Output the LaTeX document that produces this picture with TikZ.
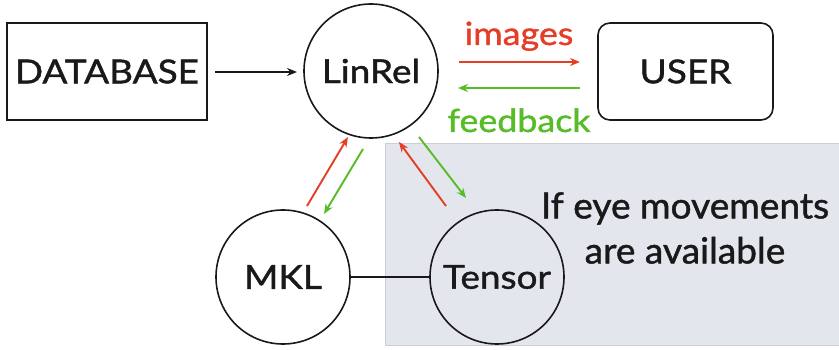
\documentclass[tikz,border=0pt]{standalone}
\usepackage{fontspec}
\setmainfont{Lato}
\usetikzlibrary{arrows.meta}
\definecolor{cred}{RGB}{228,62,38}
\definecolor{cgreen}{RGB}{88,188,40}
\definecolor{panel}{RGB}{227,230,237}
\definecolor{panelborder}{RGB}{205,207,212}
\newcommand{\labfont}[1]{\fontsize{#1}{#1}\selectfont\addfontfeature{FakeStretch=1.12,FakeBold=1.2}}
\tikzset{
  lbl/.style={font=\labfont{33}, text=black!90},
  circ/.style={draw=black!90, line width=1.6pt, circle, minimum size=134pt, inner sep=0pt},
  boxn/.style={draw=black!90, line width=1.6pt, minimum width=200pt, minimum height=97pt, inner sep=0pt},
  arr/.style={line width=1.9pt, -{Stealth[length=10pt,width=8pt]}},
  arrlbl/.style={font=\labfont{32}, anchor=base},
}
\begin{document}
\begin{tikzpicture}[x=1pt,y=-1pt]
\useasboundingbox (0,0) rectangle (839,350);
% panel
\fill[panel, draw=panelborder, line width=0.8pt] (385,143) rectangle (842,345);
% nodes
\node[boxn, lbl] (db) at (107,71.5) {DATABASE};
\node[circ, lbl] (lin) at (371,71) {LinRel};
\node[boxn, lbl, rounded corners=12pt, minimum width=175pt] (user) at (685.5,71.5) {USER};
\node[circ, lbl] (mkl) at (283,277) {MKL};
\node[circ, lbl] (ten) at (497,277) {Tensor};
\node[font=\fontsize{36}{45}\selectfont\addfontfeature{FakeStretch=1.03,FakeBold=1.2}, text=black!90, align=center] (note) at (685,228) {If eye movements\\are available};
\node[arrlbl, text=cred] (imgl) at (519,45) {images};
\node[arrlbl, text=cgreen] (fbl) at (519,132) {feedback};
% connectors
\coordinate (dbo) at (215,72);
\coordinate (lini) at (297,72);
\draw[arr, black!90] (dbo) -- (lini);
\coordinate (ia) at (459,62); \coordinate (ib) at (580,62);
\coordinate (fa) at (580,88); \coordinate (fb) at (458,88);
\draw[arr, cred] (ia) -- (ib);
\draw[arr, cgreen] (fa) -- (fb);
% MKL <-> LinRel
\coordinate (m1) at (307,206); \coordinate (m2) at (348,137);
\coordinate (m3) at (363,149); \coordinate (m4) at (324,214);
\draw[arr, cred] (m1) -- (m2);
\draw[arr, cgreen] (m3) -- (m4);
% Tensor <-> LinRel
\coordinate (t1) at (446,206); \coordinate (t2) at (399,142);
\coordinate (t3) at (419,137); \coordinate (t4) at (466,198);
\draw[arr, cred] (t1) -- (t2);
\draw[arr, cgreen] (t3) -- (t4);
% MKL -- Tensor
\draw[line width=1.6pt, black!90] (mkl.east) -- (ten.west);
\end{tikzpicture}
\end{document}
